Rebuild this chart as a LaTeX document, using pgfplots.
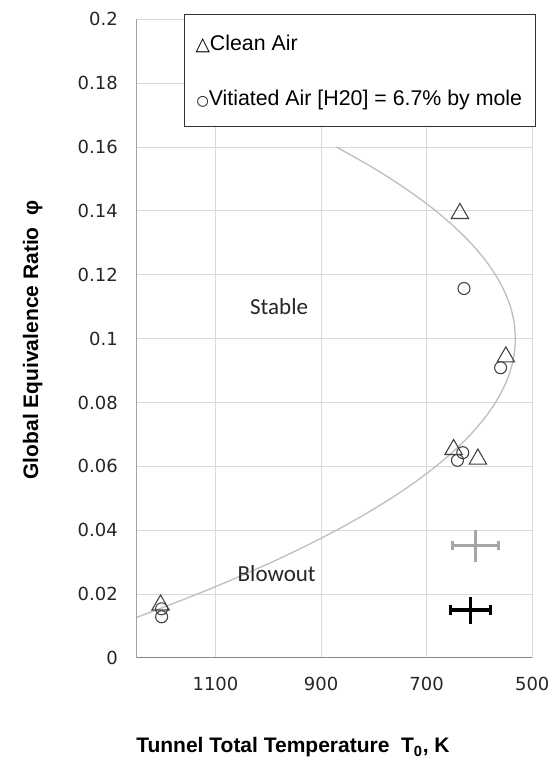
\documentclass[border=0pt]{standalone}
\usepackage{pgfplots}
\pgfplotsset{compat=1.18}
\usepackage{fontspec}
\setmainfont{Liberation Sans}
\newfontfamily\dejavu{DejaVu Sans}
\newfontfamily\carlito{Carlito}
\definecolor{gridc}{HTML}{D9D9D9}
\definecolor{axc}{HTML}{868686}
\definecolor{curvec}{HTML}{BFBFBF}
\definecolor{markc}{HTML}{404040}
\definecolor{errg}{HTML}{A6A6A6}
\begin{document}
\begin{tikzpicture}
\path[use as bounding box] (0,0) rectangle (413.25pt,571.5pt);
\begin{axis}[
  at={(102.2pt,78pt)}, anchor=south west, scale only axis,
  width=297pt, height=479pt,
  xmin=500, xmax=1250, ymin=0, ymax=0.2, x dir=reverse,
  xtick={500,700,900,1100}, xticklabels={500,700,900,1100},
  ytick={0,0.02,0.04,0.06,0.08,0.1,0.12,0.14,0.16,0.18,0.2},
  yticklabels={0,0.02,0.04,0.06,0.08,0.1,0.12,0.14,0.16,0.18,0.2},
  yticklabel pos=left,
  grid=major, major grid style={draw=gridc, line width=0.75pt},
  axis line style={draw=gridc, line width=0.75pt},
  major tick length=0pt, tick style={draw=none},
  ticklabel style={font=\dejavu\fontsize{13.5pt}{16pt}\selectfont, text=black!85, inner sep=0pt},
  yticklabel style={anchor=east, xshift=-13.7pt},
  xticklabel style={anchor=north, yshift=-14.25pt},
]
% fitted boundary curve
\addplot[curvec, line width=1pt, smooth, mark=none] coordinates {
(1261,0.012) (1212.4,0.015) (1134.7,0.02) (1061.7,0.025) (993.4,0.03) (929.9,0.035)
(871,0.04) (816.9,0.045) (767.4,0.05) (722.7,0.055) (682.7,0.06) (647.4,0.065)
(616.8,0.07) (590.9,0.075) (569.7,0.08) (553.2,0.085) (541.4,0.09) (534.4,0.095)
(532,0.1) (534.4,0.105) (541.4,0.11) (553.2,0.115) (569.7,0.12) (590.9,0.125)
(616.8,0.13) (647.4,0.135) (682.7,0.14) (722.7,0.145) (767.4,0.15) (816.9,0.155) (871,0.16)
};
% clean air
\addplot[only marks, mark=triangle, mark size=7.5pt, mark options={draw=markc, fill=none, line width=0.8pt}] coordinates {
(1204,0.0166) (649,0.0653) (603,0.0623) (550,0.0943) (637,0.1392)
};
% vitiated air
\addplot[only marks, mark=o, mark size=4.5pt, mark options={draw=markc, fill=none, line width=0.8pt}] coordinates {
(1202,0.0154) (1202,0.0129) (631.6,0.0643) (641.7,0.0619) (560,0.0909) (629.3,0.1157)
};
% error bars
\addplot[errg, line width=2.25pt, mark=none, draw=none, error bars/.cd, x dir=both, x explicit,
  error bar style={errg, line width=2.25pt}, error mark=|, error mark options={errg, line width=2.25pt, mark size=3.4pt}]
  coordinates {(608,0.0351) +- (44,0)};
\addplot[errg, line width=2.25pt, mark=none, draw=none, error bars/.cd, y dir=both, y explicit,
  error bar style={errg, line width=2.25pt}, error mark=none]
  coordinates {(608,0.0351) +- (0,0.005)};
\addplot[black, line width=2.5pt, mark=none, draw=none, error bars/.cd, x dir=both, x explicit,
  error bar style={black, line width=2.5pt}, error mark=|, error mark options={black, line width=2.5pt, mark size=3.75pt}]
  coordinates {(617,0.015) +- (38,0)};
\addplot[black, line width=2.5pt, mark=none, draw=none, error bars/.cd, y dir=both, y explicit,
  error bar style={black, line width=2.5pt}, error mark=none]
  coordinates {(617,0.015) +- (0,0.0042)};
\node[anchor=base, inner sep=0pt, font=\carlito\fontsize{17.25pt}{20pt}\selectfont, text=black!85] at (axis cs:979.5,0.1077) {Stable};
\node[anchor=base, inner sep=0pt, font=\carlito\fontsize{17.25pt}{20pt}\selectfont, text=black!85] at (axis cs:984,0.0239) {Blowout};
\draw[axc, line width=0.75pt] (axis cs:1250,0.2) -- (axis cs:1250,0) -- (axis cs:500,0);
\end{axis}
\draw[black!80, line width=0.75pt, fill=white] (138pt,476.25pt) rectangle (401.25pt,560.25pt);
\node[anchor=base west, inner sep=0pt, font=\fontsize{16pt}{18pt}\selectfont] at (146.5pt,533.5pt)
  {{\dejavu\fontsize{14pt}{15pt}\selectfont △}Clean Air};
\node[anchor=base west, inner sep=0pt, font=\fontsize{16pt}{18pt}\selectfont] at (147.25pt,492pt)
  {{\dejavu\fontsize{10.5pt}{12pt}\selectfont\raisebox{0.5pt}{○}}Vitiated Air [H20] = 6.7\% by mole};
\node[rotate=90, anchor=base, inner sep=0pt, font=\bfseries\fontsize{15.75pt}{18pt}\selectfont] at (28.5pt,316.5pt)
  {Global Equivalence Ratio~~φ};
\node[anchor=base west, inner sep=0pt, font=\bfseries\fontsize{15.75pt}{18pt}\selectfont] at (102pt,6.75pt)
  {Tunnel Total Temperature~~T\textsubscript{0}, K};
\end{tikzpicture}
\end{document}
